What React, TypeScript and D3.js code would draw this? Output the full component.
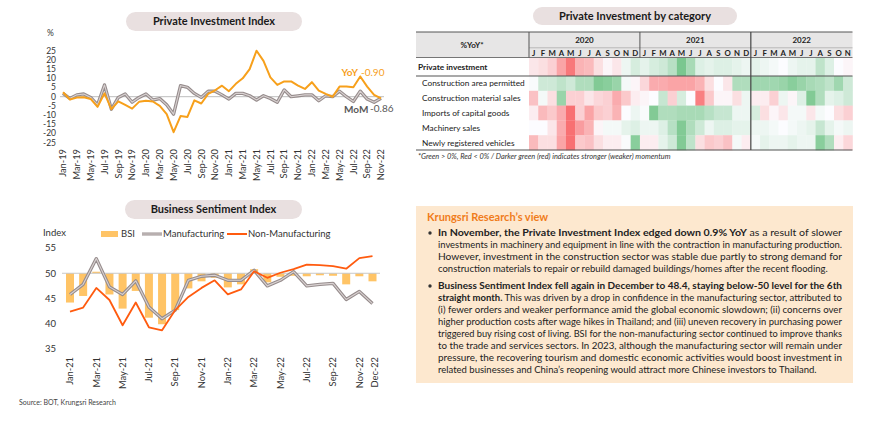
import React, { useEffect } from 'react';
import * as d3 from 'd3';

const FONT = 'Lato, "Open Sans", sans-serif';

// Private Investment Index, Jan-19 .. Nov-22 (% change)
const piiYoY = [
  2.4, -1.5, -0.5, -0.3, -1.2, -5.5, 1.8, -6.8, -2.5, -4.5,
  -6.5, -2.8, -2.2, -2.6, -5, -9.5, -19.3, -10.5, -11, -2,
  -3.7, 1.5, 3.5, 6, 3, 7, 10, 15, 25, 19.5,
  10.5, 6.4, 8.3, 8.3, 6, 4.2, 7.9, 3.3, 1.5, 0,
  5.5, 5.5, 5.1, 11, 5.5, 1, -0.9,
];
const piiMoM = [
  1.8, -1, 1, 1.5, -0.4, -4.4, 6.4, -6.8, -0.4, 1.5,
  -3, -0.4, 1.5, -1.8, -1, -4.4, -9.5, 6, 5.1, 1.8,
  -0.4, 3, 3, 1, -1.3, 1.8, 1.8, 0.5, -1.8, 0.5,
  -1, -3, 3.7, 0, 0.5, 1, 1, -2.2, 0.5, 0,
  3, 0, -2.6, 3, -1.3, -3, -0.86,
];
const piiTicks = [
  'Jan-19', 'Mar-19', 'May-19', 'Jul-19', 'Sep-19', 'Nov-19',
  'Jan-20', 'Mar-20', 'May-20', 'Jul-20', 'Sep-20', 'Nov-20',
  'Jan-21', 'Mar-21', 'May-21', 'Jul-21', 'Sep-21', 'Nov-21',
  'Jan-22', 'Mar-22', 'May-22', 'Jul-22', 'Sep-22', 'Nov-22',
];
const piiYTicks = [25, 20, 15, 10, 5, 0, -5, -10, -15, -20, -25];

// Business Sentiment Index, Jan-21 .. Dec-22
const bsiMonths = [
  'Jan-21', 'Feb-21', 'Mar-21', 'Apr-21', 'May-21', 'Jun-21', 'Jul-21', 'Aug-21', 'Sep-21', 'Oct-21', 'Nov-21', 'Dec-21',
  'Jan-22', 'Feb-22', 'Mar-22', 'Apr-22', 'May-22', 'Jun-22', 'Jul-22', 'Aug-22', 'Sep-22', 'Oct-22', 'Nov-22', 'Dec-22',
];
const bsi = [44.2, 45.5, 50.3, 45.8, 43.0, 46.5, 41.2, 39.9, 42.7, 47.0, 48.4, 49.1, 47.2, 47.8, 50.8, 48.2, 49.3, 49.5, 49.4, 49.6, 49.5, 47.8, 49.4, 48.4];
const manufacturing = [45.8, 47.8, 52.9, 47.3, 45.8, 48.5, 43.3, 41.0, 42.7, 48.6, 49.4, 49.6, 48.6, 48.6, 50.6, 47.5, 48.6, 50.3, 47.5, 47.8, 48.0, 44.8, 46.4, 44.0];
const nonManufacturing = [42.4, 43.2, 47.1, 44.7, 39.7, 44.2, 39.3, 38.7, 42.7, 45.3, 47.1, 48.6, 45.8, 46.8, 50.4, 49.1, 50.1, 50.8, 51.7, 51.6, 51.4, 50.9, 53.0, 53.4];
const bsiTicks = ['Jan-21', 'Mar-21', 'May-21', 'Jul-21', 'Sep-21', 'Nov-21', 'Jan-22', 'Mar-22', 'May-22', 'Jul-22', 'Sep-22', 'Nov-22', 'Dec-22'];
const bsiYTicks = [55, 50, 45, 40, 35];

// Heatmap: momentum score (-1 weak .. +1 strong), Jan-20 .. Nov-22
const heatYears = ['2020', '2021', '2022'];
const heatMonthLetters = ['J', 'F', 'M', 'A', 'M', 'J', 'J', 'A', 'S', 'O', 'N', 'D'];
const heatRows = ['Private investment', 'Construction area permitted', 'Construction material sales', 'Imports of capital goods', 'Machinery sales', 'Newly registered vehicles'];
const privateInvestment = [
  -0.15, -0.2, -0.3, -0.6, -0.9, -0.5, -0.45, -0.2, -0.05, -0.15, 0.1, 0.25,
  0.15, 0.25, 0.3, 0.45, 0.85, 0.55, 0.2, 0.15, 0.2, 0.2, 0.15, 0.1,
  0.15, 0.1, 0.05, 0, 0.1, 0.15, 0.15, 0.4, 0.2, 0, -0.05,
];
const constructionArea = [
  0.02, 0.3, 0.3, 0.4, 0.3, 0.5, 0.5, 0.8, 0.75, 0.65, 0.05, -0.05,
  -0.25, -0.55, -0.55, -0.6, -0.6, -0.6, -0.5, -0.2, 0, -0.15, 0.5, 0.5,
  0.6, 0.6, 0.6, 0.65, 0.75, 0.65, 0.55, 0.5, 0.4, 0.6, 0.3,
];
const constructionMaterial = [
  -0.4, 0.05, -0.2, 0.65, -0.3, -0.3, -0.15, -0.25, -0.3, -0.55, -0.35, -0.1,
  -0.05, 0, 0.35, -0.3, 0.25, 0, -0.85, -0.35, -0.05, -0.05, -0.2, 0.1,
  -0.1, -0.1, -0.3, 0.1, -0.05, 0.2, 0.8, 0.5, 0.15, 0.2, 0.3,
];
const importsCapital = [
  -0.1, -0.45, -0.35, -0.55, -0.95, -0.3, -0.6, -0.35, -0.3, -0.5, 0, 0.1,
  0.02, 0.8, 0.5, 0.5, 0.55, 0.55, 0.55, 0.45, 0.35, 0.35, 0.1, 0.1,
  0.25, -0.2, -0.05, -0.15, 0.05, 0.05, -0.15, 0.05, 0, -0.2, -0.3,
];
const machinerySales = [
  0, 0, -0.15, -0.55, -0.95, -0.65, -0.5, -0.05, 0.05, 0.05, 0.15, 0.2,
  0.1, 0.1, 0.2, 0.45, 0.8, 0.5, 0.3, 0.1, 0.2, 0.2, 0.15, 0.15,
  0.1, 0.1, 0.05, 0, 0.05, 0.1, 0.15, 0.35, 0.15, 0.05, 0.1,
];
const newVehicles = [
  -0.45, -0.2, -0.2, -0.6, -0.95, -0.35, -0.4, -0.2, -0.1, -0.1, 0.02, 0.75,
  -0.1, -0.1, 0.15, 0.3, 0.8, 0.4, -0.2, -0.35, -0.3, -0.4, 0.05, -0.1,
  0.05, 0.15, 0.1, 0.1, 0.15, 0.1, 0.1, 0.75, 0.5, -0.1, -0.25,
];
const heatData = [privateInvestment, constructionArea, constructionMaterial, importsCapital, machinerySales, newVehicles];

// Commentary
type Seg = { t: string; b?: boolean };
const para1: Seg[][] = [
  [{ t: 'In November, the Private Investment Index edged down 0.9% YoY', b: true }, { t: ' as a result of slower' }],
  [{ t: 'investments in machinery and equipment in line with the contraction in manufacturing production.' }],
  [{ t: 'However, investment in the construction sector was stable due partly to strong demand for' }],
  [{ t: 'construction materials to repair or rebuild damaged buildings/homes after the recent flooding.' }],
];
const para2: Seg[][] = [
  [{ t: 'Business Sentiment Index fell again in December to 48.4, staying below-50 level for the 6th', b: true }],
  [{ t: 'straight month.', b: true }, { t: ' This was driven by a drop in confidence in the manufacturing sector, attributed to' }],
  [{ t: '(i) fewer orders and weaker performance amid the global economic slowdown; (ii) concerns over' }],
  [{ t: 'higher production costs after wage hikes in Thailand; and (iii) uneven recovery in purchasing power' }],
  [{ t: 'triggered buy rising cost of living. BSI for the non-manufacturing sector continued to improve thanks' }],
  [{ t: 'to the trade and services sectors. In 2023, although the manufacturing sector will remain under' }],
  [{ t: 'pressure, the recovering tourism and domestic economic activities would boost investment in' }],
  [{ t: 'related businesses and China\u2019s reopening would attract more Chinese investors to Thailand.' }],
];

const Pill = ({ x, y, w, h, label }: { x: number; y: number; w: number; h: number; label: string }) => (
  <g>
    <rect x={x} y={y} width={w} height={h} rx={h / 2} fill="#E9E0E0" />
    <text x={x + w / 2} y={y + h / 2} dy="0.36em" textAnchor="middle" fontWeight={700} fontSize={11} fill="#1a1a1a">{label}</text>
  </g>
);

const GrayLine = ({ d }: { d: string }) => (
  <g fill="none" strokeLinejoin="round">
    <path d={d} stroke="#968c8c" strokeWidth={3.3} />
    <path d={d} stroke="#d9d2d2" strokeWidth={1.1} />
  </g>
);

const PrivateInvestmentChart = () => {
  const x = d3.scaleLinear().domain([0, piiYoY.length - 1]).range([63, 381]);
  const y = d3.scaleLinear().domain([-25, 25]).range([142.7, 50.7]);
  const line = d3.line<number>().x((_, i) => x(i)).y(d => y(d));
  return (
    <g fontFamily={FONT}>
      <Pill x={126} y={12} w={176} h={19} label="Private Investment Index" />
      <text x={47} y={36} fontSize={8.5} fill="#333">%</text>
      {piiYTicks.map(t => (
        <text key={t} x={56} y={y(t)} dy="0.35em" textAnchor="end" fontSize={8.5} fill="#333">{t}</text>
      ))}
      <line x1={60} x2={384} y1={y(0)} y2={y(0)} stroke="#bdbdbd" strokeWidth={1} />
      <GrayLine d={line(piiMoM) || ''} />
      <path d={line(piiYoY) || ''} fill="none" stroke="#F7A01B" strokeWidth={2} strokeLinejoin="round" />
      {piiTicks.map((t, k) => (
        <text key={t} transform={`translate(${x(k * 2)},149) rotate(-90)`} dy="0.35em" textAnchor="end" fontSize={9.3} fill="#333">{t}</text>
      ))}
      <text x={341.5} y={76} fontSize={10} fill="#F7A01B">
        <tspan fontWeight={700}>YoY</tspan>
        <tspan dx={3}>{piiYoY[piiYoY.length - 1].toFixed(2)}</tspan>
      </text>
      <text x={344} y={112.5} fontSize={10} fontWeight={700} fill="#595959">MoM</text>
      <text x={370} y={111.5} fontSize={10} fill="#595959">{piiMoM[piiMoM.length - 1].toFixed(2)}</text>
    </g>
  );
};

const BusinessSentimentChart = () => {
  const x = d3.scaleLinear().domain([0, bsiMonths.length - 1]).range([70, 372.5]);
  const y = d3.scaleLinear().domain([35, 55]).range([349, 248]);
  const line = d3.line<number>().x((_, i) => x(i)).y(d => y(d));
  const bw = 8;
  return (
    <g fontFamily={FONT}>
      <Pill x={125} y={200} w={177} h={19} label="Business Sentiment Index" />
      <text x={43} y={236} fontSize={9.5} fill="#333">Index</text>
      <rect x={101} y={231} width={17} height={6} fill="#FFC466" />
      <text x={121} y={237} fontSize={9.5} fill="#333">BSI</text>
      <line x1={142} x2={162} y1={234} y2={234} stroke="#968c8c" strokeWidth={3} />
      <line x1={142} x2={162} y1={234} y2={234} stroke="#d9d2d2" strokeWidth={1} />
      <text x={163} y={237} fontSize={9.5} fill="#333">Manufacturing</text>
      <line x1={227} x2={247} y1={234} y2={234} stroke="#FF5B0F" strokeWidth={2} />
      <text x={248} y={237} fontSize={9.5} fill="#333">Non-Manufacturing</text>
      {bsiYTicks.map(t => (
        <text key={t} x={56} y={y(t)} dy="0.35em" textAnchor="end" fontSize={9.5} fill="#333">{t}</text>
      ))}
      {bsi.map((v, i) => (
        <rect key={i} x={x(i) - bw / 2} width={bw} y={Math.min(y(v), y(50))} height={Math.abs(y(v) - y(50))} fill="#FFC466" />
      ))}
      <line x1={62} x2={380} y1={y(50)} y2={y(50)} stroke="#c8c8c8" strokeWidth={1} />
      <GrayLine d={line(manufacturing) || ''} />
      <path d={line(nonManufacturing) || ''} fill="none" stroke="#FF5B0F" strokeWidth={1.8} strokeLinejoin="round" />
      {bsiTicks.map(t => (
        <text key={t} transform={`translate(${x(bsiMonths.indexOf(t)) + (t === 'Dec-22' ? 2 : 0)},357) rotate(-90)`} dy="0.35em" textAnchor="end" fontSize={9.3} fill="#333">{t}</text>
      ))}
      <text x={19} y={405} fontSize={7} fill="#444">Source: BOT, Krungsri Research</text>
    </g>
  );
};

const Heatmap = () => {
  const nCols = privateInvestment.length;
  const x = d3.scaleBand<number>().domain(d3.range(nCols)).range([529, 852.5]);
  const rowTops = [58, 76, 90.8, 105.6, 120.4, 135.2];
  const rowBottom = 150;
  const color = d3.scaleLinear<string>().domain([-1, 0, 1]).range(['#F8696B', '#FCFCFF', '#63BE7B']).clamp(true);
  const yearStart = [0, 12, 24];
  return (
    <g fontFamily={FONT}>
      <Pill x={533} y={7} w={204} h={18} label="Private Investment by category" />
      <rect x={416} y={32} width={436.5} height={25.5} fill="#E7E6E6" />
      {heatData.map((row, r) => row.map((v, c) => (
        <rect key={`${r}-${c}`} x={x(c)} y={rowTops[r]} width={x.bandwidth() + 0.3} height={(r < 5 ? rowTops[r + 1] : rowBottom) - rowTops[r] + 0.3} fill={color(v)} />
      )))}
      <line x1={416} x2={852.5} y1={32} y2={32} stroke="#555" strokeWidth={1} />
      <line x1={529} x2={852.5} y1={47.8} y2={47.8} stroke="#999" strokeWidth={0.6} />
      <line x1={416} x2={852.5} y1={57.5} y2={57.5} stroke="#555" strokeWidth={0.8} />
      <line x1={416} x2={852.5} y1={76} y2={76} stroke="#555" strokeWidth={1.2} />
      <line x1={416} x2={852.5} y1={150} y2={150} stroke="#555" strokeWidth={1.2} />
      <line x1={529} x2={529} y1={32} y2={57.5} stroke="#555" strokeWidth={1} />
      <line x1={x(12)} x2={x(12)} y1={32} y2={57.5} stroke="#555" strokeWidth={1} />
      <line x1={x(24)} x2={x(24)} y1={32} y2={150} stroke="#444" strokeWidth={1.2} />
      <text x={472} y={45} dy="0.35em" textAnchor="middle" fontSize={8} fontWeight={700} fill="#222">%YoY*</text>
      {heatYears.map((yr, k) => {
        const a = x(yearStart[k]) as number;
        const b = k < 2 ? (x(yearStart[k + 1]) as number) : 852.5;
        return <text key={yr} x={(a + b) / 2} y={40.5} dy="0.35em" textAnchor="middle" fontSize={8} fontWeight={700} fill="#222">{yr}</text>;
      })}
      {d3.range(nCols).map(c => (
        <text key={c} x={(x(c) as number) + x.bandwidth() / 2} y={52.8} dy="0.35em" textAnchor="middle" fontSize={7.8} fontWeight={700} fill="#222">{heatMonthLetters[c % 12]}</text>
      ))}
      {heatRows.map((name, r) => {
        const mid = ((r < 5 ? rowTops[r + 1] : rowBottom) + rowTops[r]) / 2;
        return (
          <text key={name} x={r === 0 ? 418 : 422} y={mid} dy="0.35em" fontSize={8.3} fontWeight={r === 0 ? 700 : 400} fill="#222">{name}</text>
        );
      })}
      <text x={418} y={159} fontSize={7.4} fontStyle="italic" fill="#333">*Green &gt; 0%, Red &lt; 0% / Darker green (red) indicates stronger (weaker) momentum</text>
    </g>
  );
};

const Paragraph = ({ lines, y0 }: { lines: Seg[][]; y0: number }) => (
  <g>
    <circle cx={430} cy={y0 - 3} r={1.7} fill="#333" />
    {lines.map((segs, i) => {
      const last = i === lines.length - 1;
      return (
        <text key={i} x={438} y={y0 + i * 12} fontSize={9.5} fill="#222"
          {...(last ? {} : { textLength: 404, lengthAdjust: 'spacingAndGlyphs' })}>
          {segs.map((s, k) => (
            <tspan key={k} fontWeight={s.b ? 700 : 400}>{s.t}</tspan>
          ))}
        </text>
      );
    })}
  </g>
);

const ViewBox = () => (
  <g fontFamily={FONT}>
    <rect x={416} y={206} width={437} height={177} fill="#FDE8CF" />
    <text x={427} y={221} fontSize={11} fontWeight={700} fill="#F07C1B">Krungsri Research{'\u2019'}s view</text>
    <Paragraph lines={para1} y0={236} />
    <Paragraph lines={para2} y0={289} />
  </g>
);

export default function App() {
  useEffect(() => {
    document.body.style.margin = '0';
  }, []);
  return (
    <svg width={870} height={422} viewBox="0 0 870 422" style={{ display: 'block', background: '#fff' }}>
      <PrivateInvestmentChart />
      <Heatmap />
      <BusinessSentimentChart />
      <ViewBox />
    </svg>
  );
}
